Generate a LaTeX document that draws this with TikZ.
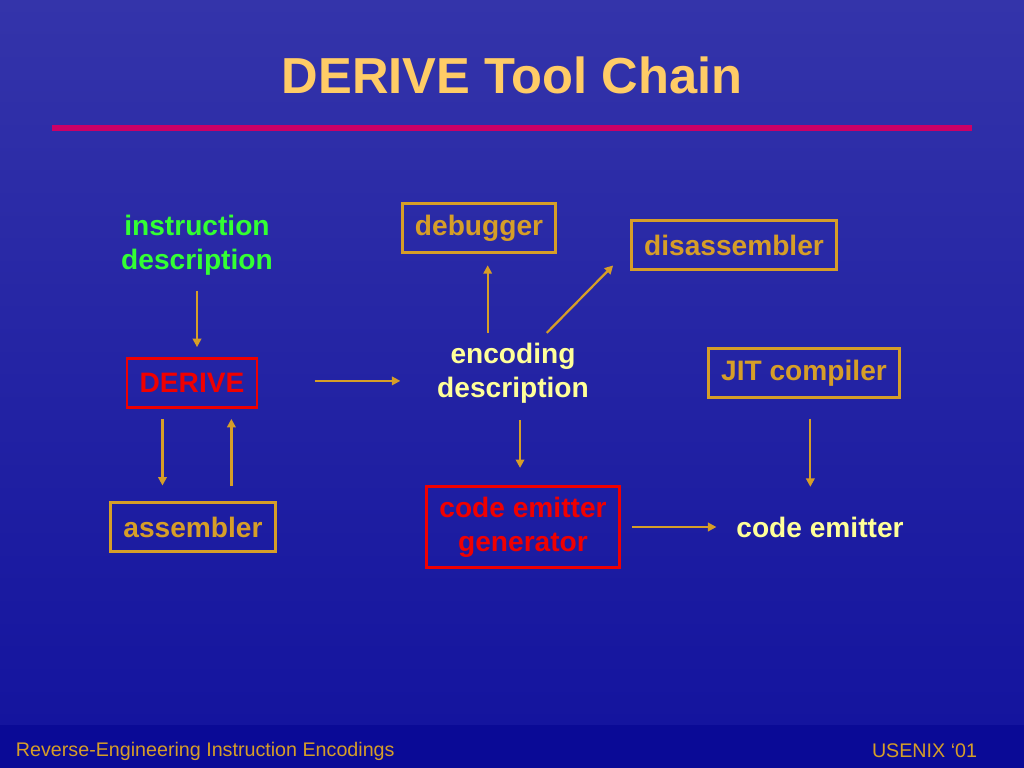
\documentclass[tikz,border=0pt]{standalone}
\usepackage{fontspec}
\setmainfont{Liberation Sans}
\usetikzlibrary{arrows.meta}

\definecolor{slidetop}{RGB}{52,52,170}
\definecolor{slidebot}{RGB}{20,20,158}
\definecolor{footblue}{RGB}{10,10,150}
\definecolor{titlegold}{RGB}{255,204,102}
\definecolor{rulered}{RGB}{204,0,102}
\definecolor{boxgold}{RGB}{214,158,40}
\definecolor{lightyel}{RGB}{255,255,153}
\definecolor{brightgreen}{RGB}{51,255,51}
\definecolor{boxred}{RGB}{240,0,0}

\tikzset{
  txt/.style={font=\fontsize{20}{24}\selectfont\bfseries, align=center, inner sep=0pt},
  goldbox/.style={txt, draw=boxgold, line width=2pt, text=boxgold, inner xsep=9pt, minimum height=35pt},
  redbox/.style={txt, draw=boxred, line width=2pt, text=boxred, inner xsep=9pt, minimum height=35pt},
  arr/.style={draw=boxgold, line width=1.6pt, -{Triangle[length=6pt, width=6pt]}},
}

\begin{document}
\begin{tikzpicture}[x=0.025cm, y=-0.025cm]
  % background
  \shade[top color=slidetop, bottom color=slidebot] (0,0) rectangle (1024,725);
  \fill[footblue] (0,725) rectangle (1024,768);
  \useasboundingbox (0,0) rectangle (1024,768);

  % title and rule
  \node[font=\fontsize{36}{40}\selectfont\bfseries, text=titlegold] (title) at (512,75) {DERIVE Tool Chain};
  \draw[rulered, line width=4pt] (52,128) -- (972,128);

  % nodes
  \node[txt, text=brightgreen] (instr) at (197,245) {instruction\\description};
  \node[redbox] (derive) at (192,383) {DERIVE};
  \node[goldbox] (asm) at (193,527) {assembler};
  \node[txt, text=lightyel] (enc) at (513,373) {encoding\\description};
  \node[goldbox] (dbg) at (479,228) {debugger};
  \node[goldbox] (disasm) at (734,245) {disassembler};
  \node[goldbox] (jit) at (804,373) {JIT compiler};
  \node[redbox, minimum height=58pt] (cegen) at (523,527) {code emitter\\generator};
  \node[txt, text=lightyel] (cemit) at (820,527) {code emitter};

  % arrows
  \draw[arr, shorten <=11pt, shorten >=7pt] (instr.south) -- (instr.south |- derive.north);
  \draw[arr, shorten <=40pt, shorten >=26pt] ([yshift=1.5pt]derive.east) -- ([yshift=1.5pt]derive.east -| enc.west);
  \draw[arr, shorten <=7pt, shorten >=11pt] ([xshift=-21pt]derive.south) -- ([xshift=-21pt]derive.south |- asm.north);
  \draw[arr, shorten <=11pt, shorten >=7pt] ([xshift=28pt]derive.south |- asm.north) -- ([xshift=28pt]derive.south);
  \draw[arr, shorten <=7pt, shorten >=8pt] ([xshift=-18pt]enc.north) -- ([xshift=-18pt]enc.north |- dbg.south);
  \draw[arr] ([xshift=24pt,yshift=7pt]enc.north) -- ([xshift=-12pt,yshift=4pt]disasm.south west);
  \draw[arr, shorten <=12pt, shorten >=12pt] ([xshift=5pt]enc.south) -- ([xshift=5pt]enc.south |- cegen.north);
  \draw[arr, shorten <=14pt, shorten >=21pt] ([xshift=4.5pt]jit.south) -- ([xshift=4.5pt]jit.south |- cemit.north);
  \draw[arr, shorten <=8pt, shorten >=14pt] (cegen.east) -- (cemit.west);

  % footer
  \node[font=\fontsize{14}{16}\selectfont, text=boxgold, anchor=west] (foot) at (11,751) {Reverse-Engineering Instruction Encodings};
  \node[font=\fontsize{14}{16}\selectfont, text=boxgold, anchor=east] (conf) at (982,751) {USENIX `01};
\end{tikzpicture}
\end{document}
